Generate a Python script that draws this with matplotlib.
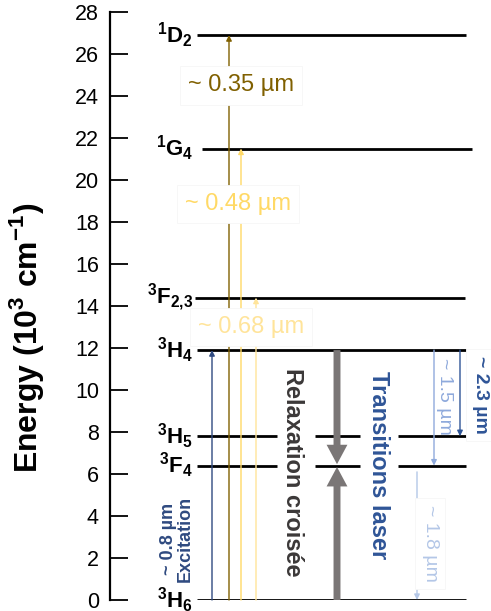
import matplotlib
matplotlib.use("Agg")
import matplotlib.pyplot as plt

plt.rcParams['font.family'] = ['Liberation Sans', 'DejaVu Sans']
plt.rcParams['mathtext.fontset'] = 'custom'
plt.rcParams['mathtext.rm'] = 'Liberation Sans'
plt.rcParams['mathtext.bf'] = 'Liberation Sans:bold'

# energy levels (10^3 cm^-1)
level_names = [r"$\mathbf{^3H_6}$", r"$\mathbf{^3F_4}$", r"$\mathbf{^3H_5}$", r"$\mathbf{^3H_4}$",
               r"$\mathbf{^3F_{2{,}3}}$", r"$\mathbf{^1G_4}$", r"$\mathbf{^1D_2}$"]
level_energy = [0.0, 6.4, 7.8, 11.9, 14.4, 21.5, 26.9]
level_x0 = [197, 197, 197, 197, 195, 202, 197]
level_x1 = [466, 466, 466, 466, 465, 472, 466]
# the two middle levels are broken where the text labels sit
broken_segments = [(197, 277), (315, 360), (398, 466)]

yticks = list(range(0, 29, 2))

# pump transitions from ground state
pump_labels = ["~ 0.35 µm", "~ 0.48 µm", "~ 0.68 µm"]
pump_top = [26.9, 21.5, 14.4]
pump_x = [229, 241, 256]
pump_colors = ["#806000", "#FFD966", "#FFE49A"]
pump_text_pos = [(241, 24.5), (238, 18.85), (251, 13.0)]

fig = plt.figure(figsize=(4.91, 6.11), dpi=100)
ax = fig.add_axes([110 / 491, 11 / 611, 381 / 491, 588 / 611])
ax.set_xlim(110, 491)
ax.set_ylim(0, 28)
for s in ["top", "right", "bottom"]:
    ax.spines[s].set_visible(False)
ax.spines["left"].set_linewidth(1.6)
ax.set_xticks([])
ax.set_yticks(yticks)
ax.tick_params(axis="y", direction="in", length=13, width=1.3, pad=8, labelsize=15.5)
ax.set_ylabel(r"Energy (10$^{\mathbf{3}}$ cm$^{\mathbf{-1}}$)", fontsize=23, fontweight="bold")
ax.yaxis.set_label_coords(-64 / 381, (600 - 338) / 588)

# levels
for name, e, x0, x1 in zip(level_names, level_energy, level_x0, level_x1):
    if e in (6.4, 7.8):
        for a, b in broken_segments:
            ax.plot([a, b], [e, e], color="black", lw=2, solid_capstyle="butt", zorder=2)
    else:
        ax.plot([x0, x1], [e, e], color="black", lw=2, solid_capstyle="butt", zorder=2)
    ax.text(193, e, name, ha="right", va="center", fontsize=16, color="black")

def arrow(x, y0, y1, color, lw=1.0, ms=8):
    ax.annotate("", xy=(x, y1), xytext=(x, y0),
                arrowprops=dict(arrowstyle="-|>", color=color, lw=lw, mutation_scale=ms,
                                shrinkA=0, shrinkB=0), zorder=3)

box = dict(boxstyle="square,pad=0.35", fc="white", ec="#f6f6f6", lw=0.6)

# pump arrows
for lab, top, x, c, (tx, ty) in zip(pump_labels, pump_top, pump_x, pump_colors, pump_text_pos):
    arrow(x, 0, top, c)
    ax.text(tx, ty, lab, ha="center", va="center", fontsize=17, color=c, bbox=box, zorder=4)

# excitation
arrow(212, 0, 11.9, "#2F4A80")
ax.text(177, 2.9, "~ 0.8 µm\nExcitation", rotation=90, ha="center", va="center",
        fontsize=13, fontweight="bold", color="#2F4A80", linespacing=1.0, zorder=4)

# cross relaxation
gray = "#7A7676"
for y0 in (11.9, 0.0):
    ax.annotate("", xy=(337, 6.4), xytext=(337, y0),
                arrowprops=dict(arrowstyle="simple,head_length=1.4,head_width=1.5,tail_width=0.5",
                                fc=gray, ec="none", mutation_scale=10, shrinkA=0, shrinkB=1),
                zorder=3)
ax.text(292, 6.1, "Relaxation croisée", rotation=-90, ha="center", va="center",
        fontsize=17, fontweight="bold", color="#3B3838", zorder=4)
ax.text(378, 6.43, "Transitions laser", rotation=-90, ha="center", va="center",
        fontsize=17, fontweight="bold", color="#2F5597", zorder=4)

# laser transitions
arrow(460, 11.9, 7.8, "#2F5597")
arrow(434, 11.9, 6.4, "#8FAADC")
arrow(417, 6.1, 0.0, "#B4C7E7")
ax.text(481, 9.76, "~ 2.3 µm", rotation=-90, ha="center", va="center", fontsize=14,
        fontweight="bold", color="#2F5597", bbox=box, zorder=4, clip_on=False)
ax.text(445, 9.7, "~ 1.5 µm", rotation=-90, ha="center", va="center", fontsize=14,
        color="#8FAADC", zorder=4)
ax.text(430, 2.7, "~ 1.8 µm", rotation=-90, ha="center", va="center", fontsize=14,
        color="#B4C7E7", bbox=box, zorder=4)

fig.savefig("out.png", dpi=100)
